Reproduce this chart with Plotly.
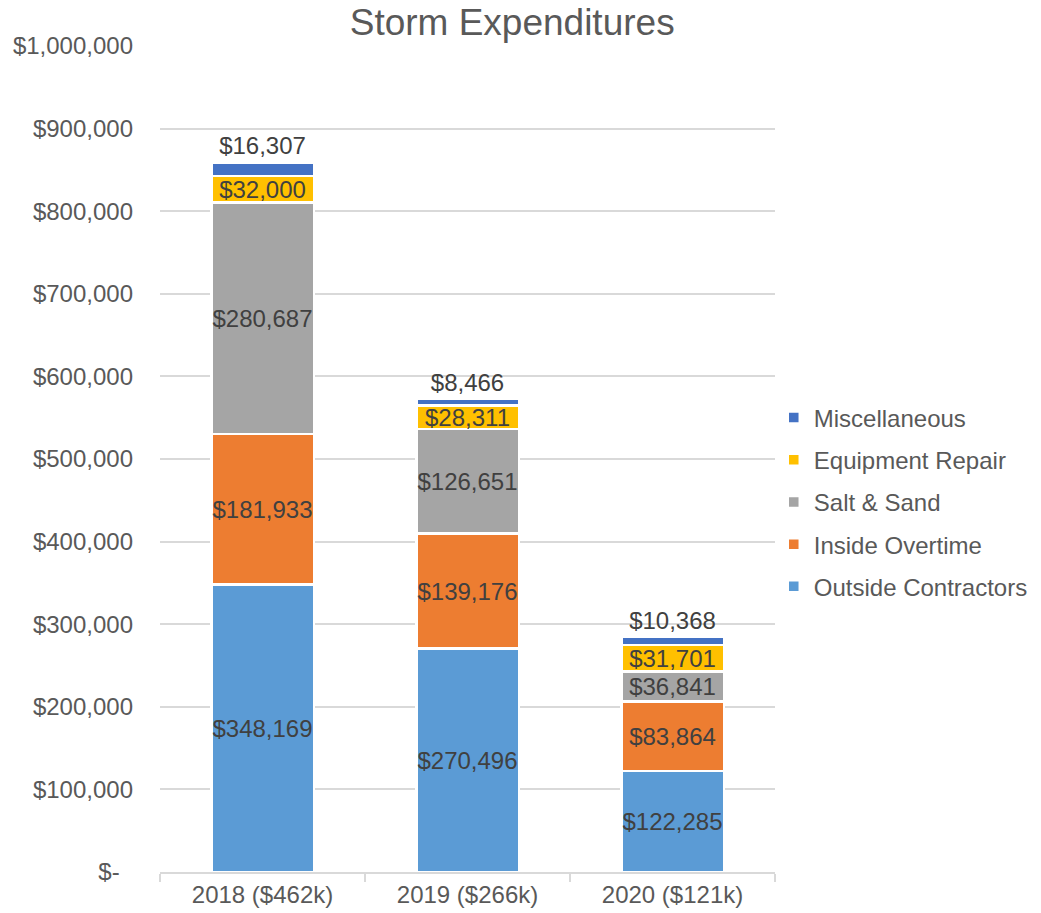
import plotly.graph_objects as go

# Storm expenditure breakdown by year
categories = ["2018 ($462k)", "2019 ($266k)", "2020 ($121k)"]
outside_contractors = [348169, 270496, 122285]
inside_overtime = [181933, 139176, 83864]
salt_and_sand = [280687, 126651, 36841]
equipment_repair = [32000, 28311, 31701]
miscellaneous = [16307, 8466, 10368]

y_tick_values = [0, 100000, 200000, 300000, 400000, 500000, 600000, 700000, 800000, 900000, 1000000]
y_tick_labels = ["$-\u00a0\u00a0", "$100,000", "$200,000", "$300,000", "$400,000", "$500,000",
                 "$600,000", "$700,000", "$800,000", "$900,000", "$1,000,000"]

# (name, values, colour, text position, legend rank)
series = [
    ("Outside Contractors", outside_contractors, "#5B9BD5", "inside", 5),
    ("Inside Overtime", inside_overtime, "#ED7D31", "inside", 4),
    ("Salt & Sand", salt_and_sand, "#A5A5A5", "inside", 3),
    ("Equipment Repair", equipment_repair, "#FFC000", "inside", 2),
    ("Miscellaneous", miscellaneous, "#4472C4", "outside", 1),
]

FONT = "Liberation Sans, Arial, sans-serif"
LABEL_COLOR = "#404040"
AXIS_TEXT = "#595959"

fig = go.Figure()
for name, values, color, pos, rank in series:
    fig.add_trace(go.Bar(
        name=name,
        x=categories,
        y=values,
        marker=dict(color=color, line=dict(color="white", width=2.5)),
        texttemplate="$%{y:,}",
        textposition=pos,
        textangle=0,
        constraintext="none",
        insidetextanchor="middle",
        insidetextfont=dict(family=FONT, size=24, color=LABEL_COLOR),
        outsidetextfont=dict(family=FONT, size=24, color=LABEL_COLOR),
        cliponaxis=False,
        legendgroup=name,
        legendrank=rank,
    ))

fig.update_layout(
    barmode="stack",
    bargap=0.5,
    width=1041,
    height=913,
    margin=dict(l=160, r=266, t=46, b=41, autoexpand=False),
    paper_bgcolor="white",
    plot_bgcolor="white",
    font=dict(family=FONT, size=24, color=AXIS_TEXT),
    title=dict(
        text="Storm Expenditures",
        x=0.492, xref="container", xanchor="center",
        y=1 - 22 / 913, yref="container", yanchor="middle",
        font=dict(family=FONT, size=37, color=AXIS_TEXT),
    ),
    legend=dict(
        x=0.998, xanchor="left",
        y=0.448, yanchor="middle",
        traceorder="grouped",
        tracegroupgap=8,
        itemwidth=30,
        font=dict(family=FONT, size=24, color=AXIS_TEXT),
        bgcolor="rgba(0,0,0,0)",
    ),
    xaxis=dict(
        showgrid=False,
        showline=True,
        linecolor="#d9d9d9",
        linewidth=1.5,
        ticks="outside",
        tickson="boundaries",
        ticklen=8,
        tickcolor="#d9d9d9",
        tickwidth=1.5,
        tickfont=dict(family=FONT, size=24, color=AXIS_TEXT),
    ),
    yaxis=dict(
        range=[0, 1000000],
        tickvals=y_tick_values,
        ticktext=y_tick_labels,
        showgrid=True,
        gridcolor="#d9d9d9",
        gridwidth=1.5,
        zeroline=False,
        showline=False,
        ticks="",
        ticklabelstandoff=26,
        tickfont=dict(family=FONT, size=24, color=AXIS_TEXT),
    ),
)

fig.write_html("out.html")
